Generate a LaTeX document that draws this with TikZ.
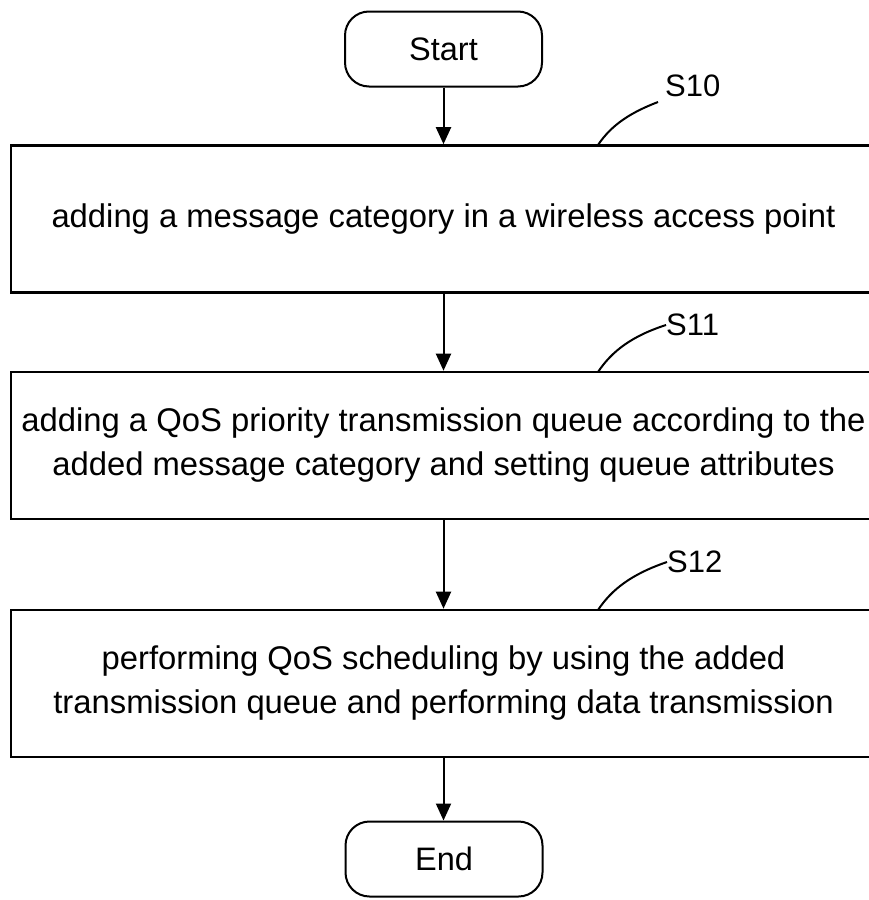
\documentclass[tikz,border=0pt]{standalone}
\usepackage{fontspec}
\setmainfont{Liberation Sans}
\usetikzlibrary{arrows.meta}
\begin{document}
\begin{tikzpicture}[x=1pt,y=-1pt,
  stepbox/.style={draw, line width=2.6pt, minimum width=865pt, minimum height=147pt, align=center, inner sep=0pt, font=\fontsize{32.8}{44}\selectfont},
  term/.style={draw, line width=2pt, rounded corners=24pt, minimum width=197pt, minimum height=75pt, inner sep=0pt, font=\fontsize{32.5}{39}\selectfont},
  flow/.style={line width=2pt, -{Triangle[length=17pt,width=15pt]}},
  tag/.style={font=\fontsize{31}{37}\selectfont, anchor=west, inner sep=0pt},
  leader/.style={line width=2pt}]
\useasboundingbox (0,0) rectangle (869,900);
\clip (0,0) rectangle (869,900);

\node[term] (start) at (443.5,49) {Start};
\node[stepbox] (b1) at (443.5,219) {adding a message category in a wireless access point};
\node[stepbox] (b2) at (443.5,445.5) {adding a QoS priority transmission queue according to the\\added message category and setting queue attributes};
\node[stepbox] (b3) at (443.5,683.5) {performing QoS scheduling by using the added\\transmission queue and performing data transmission};
\node[term] (end) at (444,859) {End};

\draw[flow] (start.south) -- (start.south |- b1.north);
\draw[flow] (b1.south) -- (b2.north);
\draw[flow] (b2.south) -- (b3.north);
\draw[flow] (b3.south) -- (b3.south |- end.north);

\node[tag] (s10) at (665,86) {S10};
\node[tag] (s11) at (666,325) {S11};
\node[tag] (s12) at (667,562) {S12};

\coordinate (c10) at (598,145);
\coordinate (c11) at (598,372);
\coordinate (c12) at (598,610);
\coordinate (e10) at (658,102);

\draw[leader] (c10) .. controls (612,124) and (632,112) .. (e10);
\draw[leader] (c11) .. controls (612,351) and (632,336) .. (s11.west);
\draw[leader] (c12) .. controls (612,589) and (632,574) .. (s12.west);
\end{tikzpicture}
\end{document}
